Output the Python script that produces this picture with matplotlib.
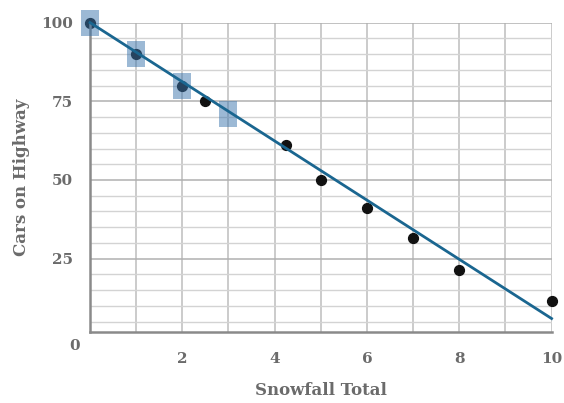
import matplotlib.pyplot as plt

# data
snow = [0, 1, 2, 2.5, 4.25, 5, 6, 7, 8, 10]
cars = [100, 90, 80, 75, 61, 50, 41, 31.5, 21.5, 11.5]

sq_x = [0, 1, 2, 3]
sq_y = [100, 90, 80, 71]

fit_x = [0, 10]
fit_y = [100, 6]

xticks = [2, 4, 6, 8, 10]
yticks = [25, 50, 75, 100]

txt = '#6b6b6b'
font = 'DejaVu Serif'

fig = plt.figure(figsize=(5.64, 4.03), dpi=100)
ax = fig.add_axes([0.1596, 0.176, 0.8184, 0.768])

# grille
for v in range(0, 11):
    ax.axvline(v, color='#bdbdbd', lw=1.1, zorder=0)
for v in range(5, 101, 5):
    c = '#b0b0b0' if v % 25 == 0 else '#d3d3d3'
    ax.axhline(v, color=c, lw=1.1 if v % 25 == 0 else 1.0, zorder=0)

ax.scatter(snow, cars, s=50, color='#111111', zorder=2, clip_on=False)
# rectangles un peu plus hauts que larges, par-dessus les points
rect = [(-0.7, -1), (0.7, -1), (0.7, 1), (-0.7, 1), (-0.7, -1)]
ax.scatter(sq_x, sq_y, marker=rect, s=330, color='#3b75ad', alpha=0.5,
           linewidths=0, zorder=3, clip_on=False)
ax.plot(fit_x, fit_y, color='#1a6690', lw=2, zorder=4, clip_on=False)

ax.set_xlim(0, 10)
ax.set_ylim(1.7, 100)

for s in ['top', 'right']:
    ax.spines[s].set_visible(False)
for s in ['left', 'bottom']:
    ax.spines[s].set_color('#8a8a8a')
    ax.spines[s].set_linewidth(1.8)

ax.set_xticks(xticks)
ax.set_yticks(yticks)
ax.tick_params(length=0, labelsize=11, labelcolor=txt)
ax.tick_params(axis='x', pad=14)
ax.tick_params(axis='y', pad=12)
for lab in ax.get_xticklabels() + ax.get_yticklabels():
    lab.set_fontfamily(font)
    lab.set_fontweight('bold')

fig.text(75 / 564, 1 - 346 / 403, '0', ha='center', va='center', fontsize=11,
         color=txt, family=font, fontweight='bold')

ax.set_xlabel('Snowfall Total', fontsize=12, color=txt, family=font,
              fontweight='bold', labelpad=12)
ax.set_ylabel('Cars on Highway', fontsize=12, color=txt, family=font,
              fontweight='bold', labelpad=8)

fig.savefig('out.png', dpi=100)
